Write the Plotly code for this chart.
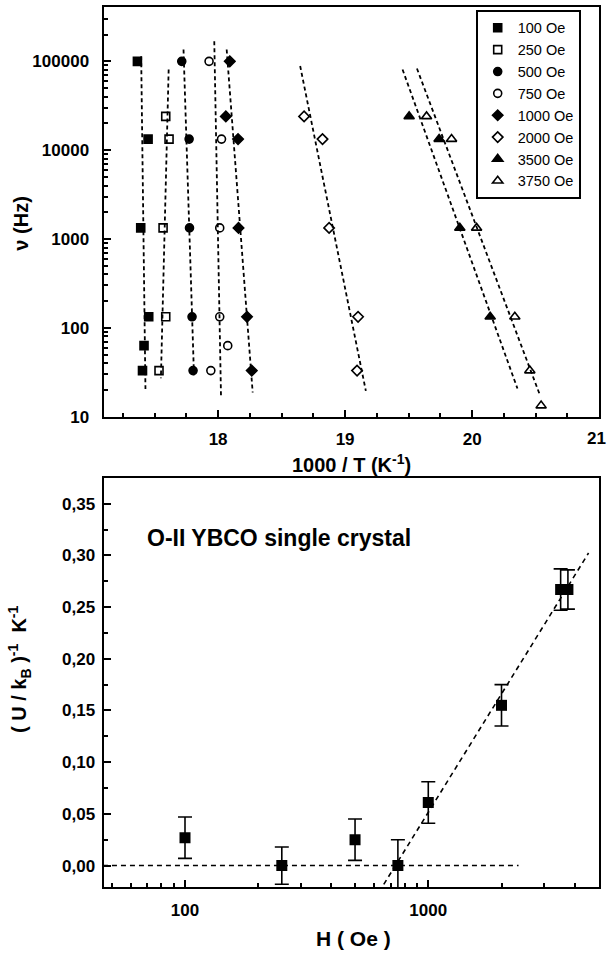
import numpy as np
import plotly.graph_objects as go

# ---------------- data: relaxation frequency vs inverse temperature ----------------
fields = ["100 Oe", "250 Oe", "500 Oe", "750 Oe", "1000 Oe", "2000 Oe", "3500 Oe", "3750 Oe"]

nu_100 = [100000, 13333, 1333, 133, 63, 33]
inv_t_100 = [17.365, 17.449, 17.391, 17.454, 17.417, 17.405]

nu_250 = [24000, 13333, 1333, 133, 33]
inv_t_250 = [17.588, 17.614, 17.567, 17.588, 17.535]

nu_500 = [100000, 13333, 1333, 133, 33]
inv_t_500 = [17.714, 17.772, 17.775, 17.795, 17.803]

nu_750 = [100000, 13333, 1333, 133, 63, 33]
inv_t_750 = [17.929, 18.027, 18.013, 18.013, 18.076, 17.943]

nu_1000 = [100000, 24000, 13333, 1333, 133, 33]
inv_t_1000 = [18.092, 18.061, 18.157, 18.161, 18.228, 18.265]

nu_2000 = [24000, 13333, 1333, 133, 33]
inv_t_2000 = [18.677, 18.822, 18.874, 19.102, 19.094]

nu_3500 = [24000, 13333, 1333, 133]
inv_t_3500 = [19.504, 19.740, 19.903, 20.142]

nu_3750 = [24000, 13333, 1333, 133, 33, 13.3]
inv_t_3750 = [19.641, 19.838, 20.035, 20.336, 20.454, 20.543]

# frequency span (Hz) covered by each Arrhenius fit line
fit_nu_span = [
    (114000, 20.5), (81000, 27), (136000, 27), (168000, 17),
    (136000, 18.7), (88700, 19.5), (81000, 20.7), (83000, 17),
]

# ---------------- data: inverse activation energy vs field ----------------
field_h = [100, 250, 500, 750, 1000, 2000, 3500, 3750]
inv_u = [0.027, 0.000, 0.025, 0.000, 0.061, 0.155, 0.267, 0.267]
inv_u_err = [0.020, 0.018, 0.020, 0.025, 0.020, 0.020, 0.020, 0.019]

zero_line_h = [46, 2350]        # field span of the U^-1 = 0 line
slope_fit_min_h = 750           # linear-in-log(H) fit uses points from this field up
slope_line_h = [600, 4560]      # field span of that fit line

# tick labels
top_x_ticks = [18, 19, 20, 21]
top_x_labels = ["18", "19", "20", "21"]
top_y_ticks = [10, 100, 1000, 10000, 100000]
top_y_labels = ["10", "100", "1000", "10000", "100000"]
bot_x_ticks = [100, 1000]
bot_x_labels = ["100", "1000"]
bot_y_ticks = [0.00, 0.05, 0.10, 0.15, 0.20, 0.25, 0.30, 0.35]

# ---------------- styling ----------------
W, H = 608, 962
FONT = "Liberation Sans, Arial, Helvetica, sans-serif"
BLACK = "#000000"

series = [
    (inv_t_100, nu_100, "square", True),
    (inv_t_250, nu_250, "square-open", False),
    (inv_t_500, nu_500, "circle", True),
    (inv_t_750, nu_750, "circle-open", False),
    (inv_t_1000, nu_1000, "diamond", True),
    (inv_t_2000, nu_2000, "diamond-open", False),
    (inv_t_3500, nu_3500, "triangle-up", True),
    (inv_t_3750, nu_3750, "triangle-up-open", False),
]
marker_size = {"square": 8, "circle": 8, "diamond": 8, "triangle-up": 9}

fig = go.Figure()

# Arrhenius fit lines: 1000/T linear in log10(nu)
for (xs, ys, sym, filled), (nu_hi, nu_lo) in zip(series, fit_nu_span):
    lv = np.log10(ys)
    slope, icpt = np.polyfit(lv, xs, 1)
    lv_end = np.log10([nu_hi, nu_lo])
    fig.add_trace(go.Scatter(
        x=slope * lv_end + icpt, y=10 ** lv_end, mode="lines",
        line=dict(color=BLACK, width=1.8, dash="4px,3px"),
        showlegend=False, hoverinfo="skip", xaxis="x", yaxis="y"))

for name, (xs, ys, sym, filled) in zip(fields, series):
    base = sym.replace("-open", "")
    fig.add_trace(go.Scatter(
        x=xs, y=ys, mode="markers", name=name,
        marker=dict(symbol=sym, size=marker_size[base], color=BLACK,
                    line=dict(color=BLACK, width=1.6)),
        xaxis="x", yaxis="y"))

# lower panel: zero line and linear fit in log(H)
fig.add_trace(go.Scatter(
    x=zero_line_h, y=[0, 0], mode="lines",
    line=dict(color=BLACK, width=1.6, dash="5px,4px"),
    showlegend=False, hoverinfo="skip", xaxis="x2", yaxis="y2"))

sel = [i for i, h in enumerate(field_h) if h >= slope_fit_min_h]
b, a = np.polyfit(np.log10([field_h[i] for i in sel]), [inv_u[i] for i in sel], 1)
fig.add_trace(go.Scatter(
    x=slope_line_h, y=[b * np.log10(h) + a for h in slope_line_h], mode="lines",
    line=dict(color=BLACK, width=1.6, dash="5px,4px"),
    showlegend=False, hoverinfo="skip", xaxis="x2", yaxis="y2"))

fig.add_trace(go.Scatter(
    x=field_h, y=inv_u, mode="markers",
    marker=dict(symbol="square", size=11, color=BLACK),
    error_y=dict(type="data", array=inv_u_err, visible=True,
                 color=BLACK, thickness=1.6, width=7),
    showlegend=False, xaxis="x2", yaxis="y2"))

# ---------------- layout ----------------
def px_x(p):
    return p / W

def px_y(p):
    return 1 - p / H

left, right = 103.5, 599.3
tick_font = dict(family=FONT, size=17, color=BLACK, weight="bold")
axis_common = dict(showline=True, linecolor=BLACK, linewidth=2, mirror=True,
                   ticks="inside", ticklen=7, tickwidth=2, tickcolor=BLACK,
                   showgrid=False, zeroline=False, tickfont=tick_font)

top_y_minor = [k * 10 ** d for d in range(1, 6) for k in range(2, 10)]
bot_x_minor = [k * 10 ** d for d in range(1, 4) for k in range(2, 10)]

# the last top-axis label sits on the page edge; it is drawn as an annotation
# so it stays inside the figure
top_x_ticktext = top_x_labels[:-1] + [""]

fig.update_layout(
    width=W, height=H,
    margin=dict(l=0, r=0, t=0, b=0),
    paper_bgcolor="white", plot_bgcolor="white",
    separators=",.",
    font=dict(family=FONT, color=BLACK),
    xaxis=dict(axis_common, domain=[px_x(left), px_x(right)], range=[17.098, 21.001],
               tickmode="array", tickvals=top_x_ticks, ticktext=top_x_ticktext,
               anchor="y", ticklabelstandoff=6,
               minor=dict(ticks="inside", ticklen=4, tickwidth=1.5, tickcolor=BLACK,
                          dtick=0.25, tick0=17, showgrid=False)),
    yaxis=dict(axis_common, domain=[px_y(421), px_y(7)], type="log", range=[1.0, 5.613],
               tickmode="array", tickvals=top_y_ticks, ticktext=top_y_labels, anchor="x",
               ticklabelstandoff=9,
               minor=dict(ticks="inside", ticklen=4, tickwidth=1.5, tickcolor=BLACK,
                          tickmode="array", tickvals=top_y_minor, showgrid=False)),
    xaxis2=dict(axis_common, domain=[px_x(left), px_x(right)], type="log",
                range=[1.665, 3.703], tickmode="array", tickvals=bot_x_ticks,
                ticktext=bot_x_labels, anchor="y2", ticklabelstandoff=6,
                minor=dict(ticks="inside", ticklen=4, tickwidth=1.5, tickcolor=BLACK,
                           tickmode="array", tickvals=bot_x_minor, showgrid=False)),
    yaxis2=dict(axis_common, domain=[px_y(896.7), px_y(483.3)], range=[-0.0211, 0.3746],
                tickmode="array", tickvals=bot_y_ticks, tickformat=".2f", anchor="x2",
                ticklabelstandoff=3,
                minor=dict(ticks="inside", ticklen=4, tickwidth=1.5, tickcolor=BLACK,
                           dtick=0.025, tick0=0, showgrid=False)),
    legend=dict(x=px_x(475.7), y=px_y(10), xanchor="left", yanchor="top",
                bgcolor="white", bordercolor=BLACK, borderwidth=2,
                font=dict(family=FONT, size=14.5, color=BLACK),
                itemwidth=30, tracegroupgap=0),
)

title_font = dict(family=FONT, size=20, color=BLACK, weight="bold")
annotations = [
    dict(text=top_x_labels[-1], x=1.0, y=px_y(443), xanchor="right", font=tick_font),
    dict(text="1000 / T (K<sup>-1</sup>)", x=px_x(351), y=px_y(468),
         font=title_font),
    dict(text="ν (Hz)", x=px_x(21), y=px_y(226), textangle=-90,
         font=title_font),
    dict(text="( U / k<sub>B</sub> )<sup>-1</sup>  K<sup>-1</sup>", x=px_x(20), y=px_y(677),
         textangle=-90, font=title_font),
    dict(text="H ( Oe )", x=px_x(353), y=px_y(948),
         font=dict(family=FONT, size=21, color=BLACK, weight="bold")),
    dict(text="O-II YBCO single crystal", x=px_x(145), y=px_y(544), xanchor="left",
         font=dict(family=FONT, size=23, color=BLACK, weight="bold")),
]
for ann in annotations:
    ann.setdefault("xanchor", "center")
    fig.add_annotation(xref="paper", yref="paper", yanchor="middle",
                       showarrow=False, **ann)

fig.write_html("out.html")
